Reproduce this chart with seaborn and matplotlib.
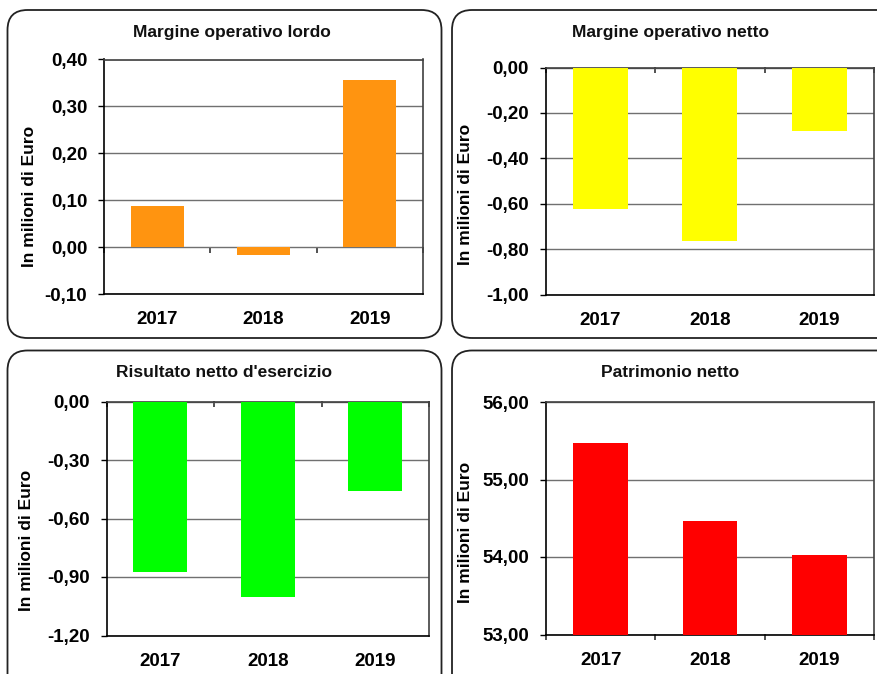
import numpy as np
import pandas as pd
import matplotlib
matplotlib.use("Agg")
import matplotlib.pyplot as plt
import seaborn as sns
from matplotlib.patches import FancyBboxPatch
from matplotlib.ticker import FixedLocator, FuncFormatter

# ---------------- data ----------------
years = ["2017", "2018", "2019"]
margine_lordo = [0.088, -0.016, 0.356]
margine_netto = [-0.622, -0.765, -0.278]
risultato_netto = [-0.874, -1.002, -0.458]
patrimonio_netto = [55.47, 54.47, 54.02]

titles = ["Margine operativo lordo", "Margine operativo netto",
          "Risultato netto d'esercizio", "Patrimonio netto"]
ylabel = "In milioni di Euro"
ticks_lordo = [-0.10, 0.00, 0.10, 0.20, 0.30, 0.40]
ticks_netto = [-1.00, -0.80, -0.60, -0.40, -0.20, 0.00]
ticks_risultato = [-1.20, -0.90, -0.60, -0.30, 0.00]
ticks_patrimonio = [53.00, 54.00, 55.00, 56.00]

series = [margine_lordo, margine_netto, risultato_netto, patrimonio_netto]
tick_sets = [ticks_lordo, ticks_netto, ticks_risultato, ticks_patrimonio]
colors = ["#FF9410", "#FFFF00", "#00FF00", "#FF0000"]

# ---------------- style ----------------
sns.set_theme(style="white")
FONT = ["Liberation Sans", "DejaVu Sans"]
plt.rcParams["font.family"] = FONT

W, H = 877, 674
fig = plt.figure(figsize=(W / 100, H / 100), dpi=100)
fig.patch.set_facecolor("white")

def fx(px):
    return px / W

def fy(py):
    return 1 - py / H

# axes boxes in pixel coordinates (left, top, right, bottom)
boxes = [(104, 59.5, 423, 294), (545.5, 67.5, 874, 294.5),
         (106.5, 401.5, 429, 635.5), (546, 402, 874, 634.5)]
# frames (left, top, right, bottom) in pixels
frames = [(7.5, 10, 441.5, 338), (452, 10, 900, 338),
          (7.5, 350.5, 441.5, 700), (452, 350.5, 900, 700)]
title_pos = [(232, 33), (671, 33), (224, 373), (670, 373)]
ylabel_pos = [(30, 196), (465, 194), (27, 540), (465, 532)]

for (l, t, r, b) in frames:
    patch = FancyBboxPatch((l / 100, (H - b) / 100), (r - l) / 100, (b - t) / 100,
                           boxstyle="round,pad=0,rounding_size=0.2",
                           transform=fig.dpi_scale_trans, facecolor="none",
                           edgecolor="#222222", linewidth=1.3, zorder=0)
    fig.patches.append(patch)

fmt = FuncFormatter(lambda v, p: f"{v:.2f}".replace(".", ","))

for i in range(4):
    l, t, r, b = boxes[i]
    ax = fig.add_axes([fx(l), fy(b), fx(r) - fx(l), fy(t) - fy(b)])
    df = pd.DataFrame({"anno": years, "valore": series[i]})
    sns.barplot(data=df, x="anno", y="valore", color=colors[i], saturation=1,
                width=0.5, linewidth=0, ax=ax, zorder=3)
    ticks = tick_sets[i]
    ax.set_ylim(ticks[0], ticks[-1])
    ax.set_xlim(-0.5, 2.5)
    ax.yaxis.set_major_locator(FixedLocator(ticks))
    ax.yaxis.set_major_formatter(fmt)
    ax.yaxis.grid(True, color="#707070", linewidth=1.0, zorder=1)
    ax.xaxis.grid(False)
    ax.set_axisbelow(True)
    ax.set_xlabel("")
    ax.set_ylabel("")
    ax.tick_params(axis="y", left=True, length=4, width=1, color="black",
                   pad=8, labelsize=13.5)
    ax.tick_params(axis="x", bottom=True, length=0, pad=12.5, labelsize=13.5)
    for lab in ax.get_xticklabels() + ax.get_yticklabels():
        lab.set_fontweight("bold")
        lab.set_color("black")
    for s in ["left", "bottom"]:
        ax.spines[s].set_color("black")
        ax.spines[s].set_linewidth(1.2)
    for s in ["top", "right"]:
        ax.spines[s].set_color("#404040")
        ax.spines[s].set_linewidth(1.2)

    # category-boundary tick marks on the zero line (or bottom)
    frac = (0 - ticks[0]) / (ticks[-1] - ticks[0])
    frac = min(max(frac, 0.0), 1.0)
    sec = ax.secondary_xaxis(frac)
    sec.xaxis.set_major_locator(FixedLocator([-0.5, 0.5, 1.5, 2.5]))
    sec.xaxis.set_ticks_position("top")
    sec.tick_params(axis="x", direction="in", length=4.5, width=1.2,
                    color="#333333", labeltop=False, labelbottom=False)
    for s in sec.spines.values():
        s.set_visible(False)

    fig.text(fx(title_pos[i][0]), fy(title_pos[i][1]), titles[i],
             ha="center", va="center", fontsize=12.5, fontweight="bold",
             color="#111111")
    fig.text(fx(ylabel_pos[i][0]), fy(ylabel_pos[i][1]), ylabel,
             ha="center", va="center", rotation=90, fontsize=12.5,
             fontweight="bold", color="black")

fig.savefig("out.png", dpi=100, facecolor="white")
